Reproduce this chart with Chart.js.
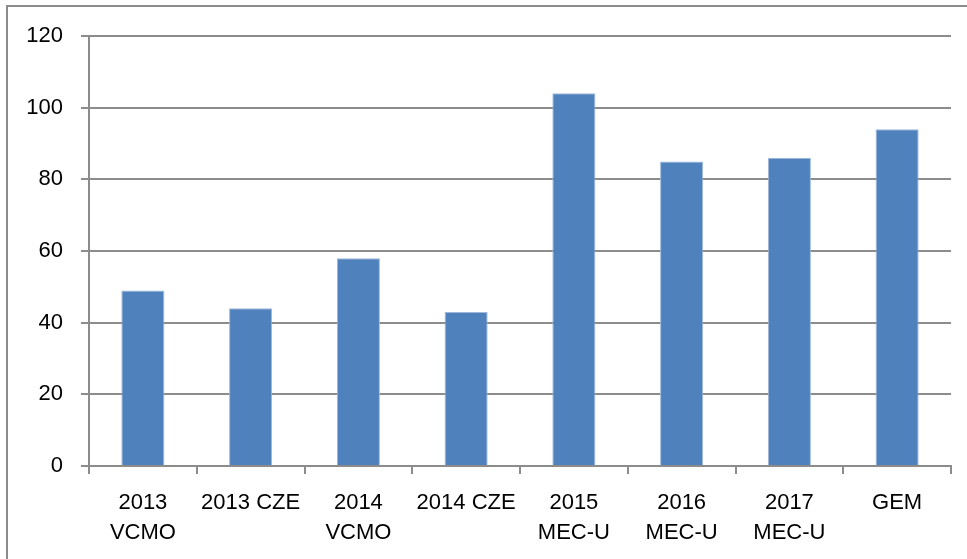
<!DOCTYPE html>
<html>
<head>
<meta charset="utf-8">
<script src="https://cdn.jsdelivr.net/npm/chart.js@4"></script>
<style>
html,body{margin:0;padding:0;background:#fff;}
#wrap{position:relative;width:967px;height:559px;}
canvas{display:block;}
</style>
</head>
<body>
<div id="wrap"><canvas id="c" width="967" height="559"></canvas></div>
<script>
const categories = [["2013","VCMO"],"2013 CZE",["2014","VCMO"],"2014 CZE",["2015","MEC-U"],["2016","MEC-U"],["2017","MEC-U"],"GEM"];
const values = [49, 44, 58, 43, 104, 85, 86, 94];
const yTicks = [0, 20, 40, 60, 80, 100, 120];

const frame = {
  id: 'frame',
  afterDraw(chart) {
    const ctx = chart.ctx;
    ctx.save();
    ctx.strokeStyle = '#8c8c8c';
    ctx.lineWidth = 2;
    ctx.beginPath();
    ctx.moveTo(7, 560);
    ctx.lineTo(7, 6);
    ctx.lineTo(967, 6);
    ctx.stroke();
    ctx.restore();
  }
};

new Chart(document.getElementById('c'), {
  type: 'bar',
  data: {
    labels: categories,
    datasets: [{
      data: values,
      backgroundColor: '#4F81BD',
      borderColor: '#9DB8DC',
      borderWidth: 1,
      barPercentage: 0.4,
      categoryPercentage: 1.0
    }]
  },
  options: {
    responsive: false,
    animation: false,
    events: [],
    layout: { padding: { left: 0, right: 16, top: 36, bottom: 0 } },
    plugins: { legend: { display: false }, tooltip: { enabled: false } },
    scales: {
      x: {
        grid: { drawOnChartArea: false, drawTicks: true, tickLength: 8, color: '#8c8c8c', lineWidth: 2, offset: true },
        border: { color: '#8c8c8c', width: 2 },
        ticks: {
          color: '#000',
          padding: 14,
          maxRotation: 0,
          autoSkip: false,
          font: { family: 'Liberation Sans', size: 22, lineHeight: 30/22 }
        },
        afterFit(s) { s.height = 93; }
      },
      y: {
        min: 0, max: 120,
        afterBuildTicks(s) { s.ticks = yTicks.map(v => ({ value: v })); },
        grid: { color: '#8c8c8c', lineWidth: 2, tickLength: 8, drawTicks: true },
        border: { color: '#8c8c8c', width: 2 },
        ticks: {
          color: '#000',
          padding: 18,
          font: { family: 'Liberation Sans', size: 22 }
        },
        afterFit(s) { s.width = 89; }
      }
    }
  },
  plugins: [frame]
});
</script>
</body>
</html>
